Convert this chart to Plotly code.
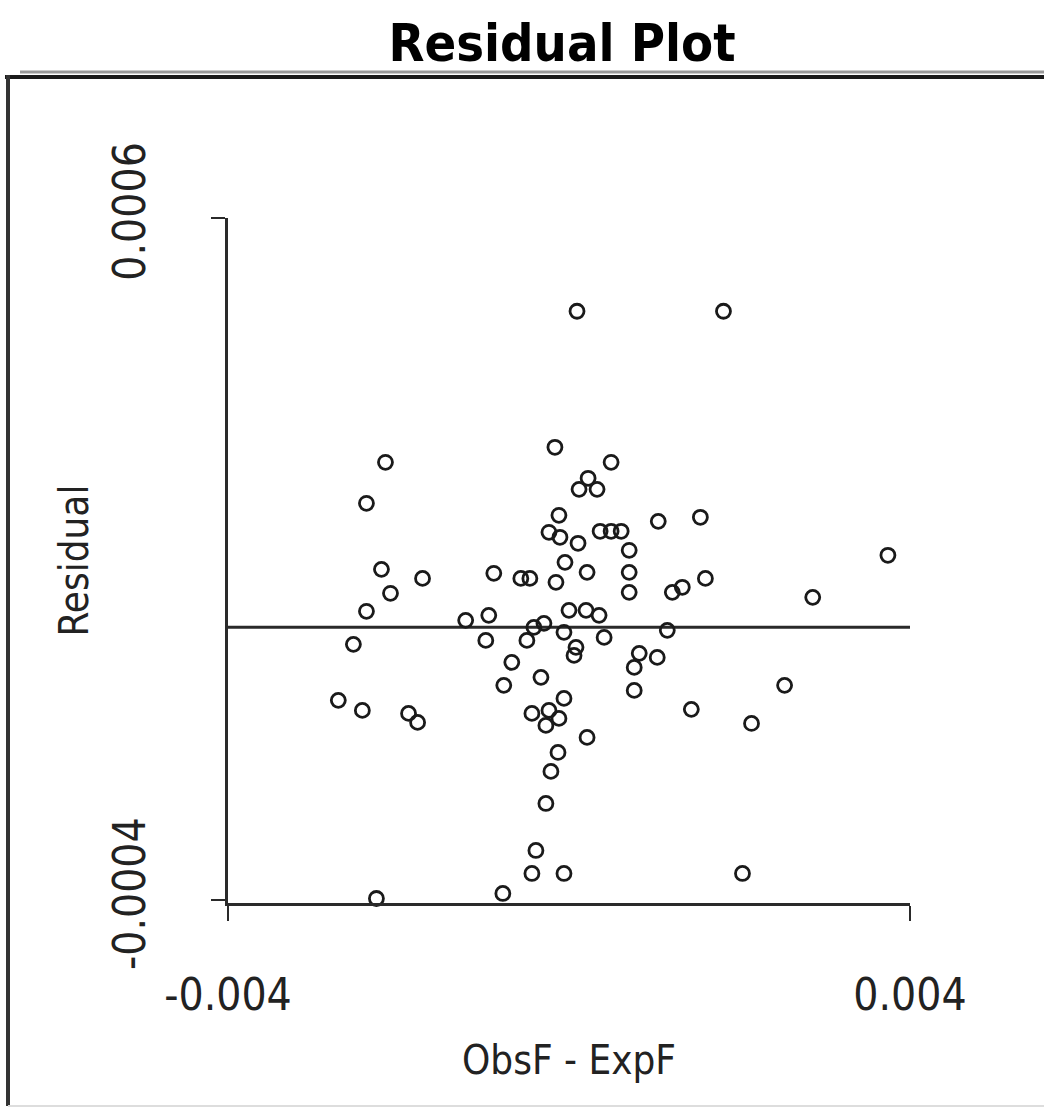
import plotly.graph_objects as go

# Data (x in ObsF - ExpF, y = Residual)
obs_minus_exp = [
    0.094, 1.812, -0.165, -2.153, 0.494, 0.224, 0.118, 0.329, -2.376, -0.118,
    1.541, 1.047, -0.235, -0.106, 0.365, 0.494, 0.612, 0.106, 0.706, -2.200,
    -0.047, -0.882, -0.565, -0.459, 0.212, 0.706, -1.718, -2.094, -0.153, 0.706,
    1.212, 1.329, 1.600, 2.859, 3.741, -2.376, -1.212, -0.941, 0.000, 0.200,
    0.353, -2.529, -0.976, -0.494, -0.412, -0.294, -0.059, 0.082, 0.412, 1.153,
    -0.671, -0.765, -0.329, 0.824, 1.035, 0.765, 0.765, -0.059, -0.435, -0.235,
    -0.118, -0.271, -2.706, -2.424, -1.882, -1.776, 0.212, -0.129, -0.212, -0.271,
    -0.388, -0.435, -0.059, 2.035, -2.259, -0.776, 1.435, 2.529, 2.141, 0.059,
]
residual = [
    4.633, 4.633, 2.639, 2.419, 2.419, 2.185, 2.023, 2.023, 1.818, 1.642,
    1.613, 1.554, 1.393, 1.320, 1.408, 1.408, 1.408, 1.232, 1.129, 0.850,
    0.953, 0.792, 0.718, 0.718, 0.806, 0.806, 0.718, 0.499, 0.660, 0.513,
    0.513, 0.587, 0.718, 0.440, 1.056, 0.235, 0.103, 0.176, 0.249, 0.249,
    0.176, -0.249, -0.191, -0.191, 0.000, 0.059, -0.073, -0.293, -0.147, -0.044,
    -0.513, -0.850, -0.733, -0.381, -0.440, -0.587, -0.924, -1.041, -1.261, -1.217,
    -1.334, -1.437, -1.070, -1.217, -1.261, -1.393, -1.613, -1.833, -2.111, -2.581,
    -3.270, -3.607, -3.607, -3.607, -3.974, -3.900, -1.202, -0.850, -1.408, -0.411,
]
x_vals = [v * 1e-3 for v in obs_minus_exp]
y_vals = [v * 1e-4 for v in residual]

x_ticks = [-0.004, 0.004]
x_tick_labels = ["-0.004", "0.004"]
y_ticks = [-0.0004, 0.0006]
y_tick_labels = ["-0.0004", "0.0006"]
x_range = [-0.004, 0.004]
y_range = [-0.000404, 0.0006]

FONT = "DejaVu Sans Condensed, DejaVu Sans, sans-serif"
INK = "#2a2a2a"

fig = go.Figure()
fig.add_trace(go.Scatter(
    x=x_vals, y=y_vals, mode="markers",
    marker=dict(symbol="circle-open", size=14, color="#1a1a1a",
                line=dict(width=2.8, color="#1a1a1a")),
    showlegend=False, cliponaxis=False,
))

# zero reference line
fig.add_shape(type="line", xref="x", yref="y", x0=x_range[0], x1=x_range[1],
              y0=0, y1=0, line=dict(color=INK, width=3), layer="below")

# outer frame
W, H = 1044, 1111
ml, mr, mt, mb = 228, 134, 218, 208
pw, ph = W - ml - mr, H - mt - mb
def px(x):
    return (x - ml) / pw
def py(y):
    return (H - mb - y) / ph

fig.add_shape(type="line", xref="paper", yref="paper", x0=px(20), x1=px(1044),
              y0=py(72), y1=py(72), line=dict(color="#999999", width=3))
fig.add_shape(type="line", xref="paper", yref="paper", x0=px(5), x1=px(1044),
              y0=py(77), y1=py(77), line=dict(color="#1a1a1a", width=4))
fig.add_shape(type="line", xref="paper", yref="paper", x0=px(8), x1=px(8),
              y0=py(75), y1=py(1106), line=dict(color="#333333", width=4))
fig.add_shape(type="line", xref="paper", yref="paper", x0=px(8), x1=px(1044),
              y0=py(1106), y1=py(1106), line=dict(color="#dddddd", width=2))

fig.update_layout(
    width=W, height=H,
    margin=dict(l=ml, r=mr, t=mt, b=mb),
    paper_bgcolor="white", plot_bgcolor="white",
    title=dict(text="Residual Plot", x=562 / W, xanchor="center",
               y=1 - 43 / H, yanchor="middle",
               font=dict(family=FONT, size=52, color="black", weight="bold")),
    xaxis=dict(range=x_range, tickvals=x_ticks, ticktext=x_tick_labels,
               showgrid=False, zeroline=False, showline=True, linecolor=INK,
               linewidth=3, ticks="outside", ticklen=15, tickwidth=2,
               tickcolor=INK, ticklabelstandoff=36,
               tickfont=dict(family=FONT, size=44, color="#222"),
               title=dict(text="ObsF - ExpF", standoff=28,
                          font=dict(family=FONT, size=40, color="#222"))),
    yaxis=dict(range=y_range, tickvals=y_ticks, ticktext=y_tick_labels,
               showgrid=False, zeroline=False, showline=True, linecolor=INK,
               linewidth=3, ticks="outside", ticklen=14, tickwidth=2,
               tickcolor=INK, tickangle=-90, ticklabelstandoff=48,
               tickfont=dict(family=FONT, size=44, color="#222"),
               title=dict(text="Residual", standoff=4,
                          font=dict(family=FONT, size=40, color="#222"))),
)

fig.write_html("out.html")
